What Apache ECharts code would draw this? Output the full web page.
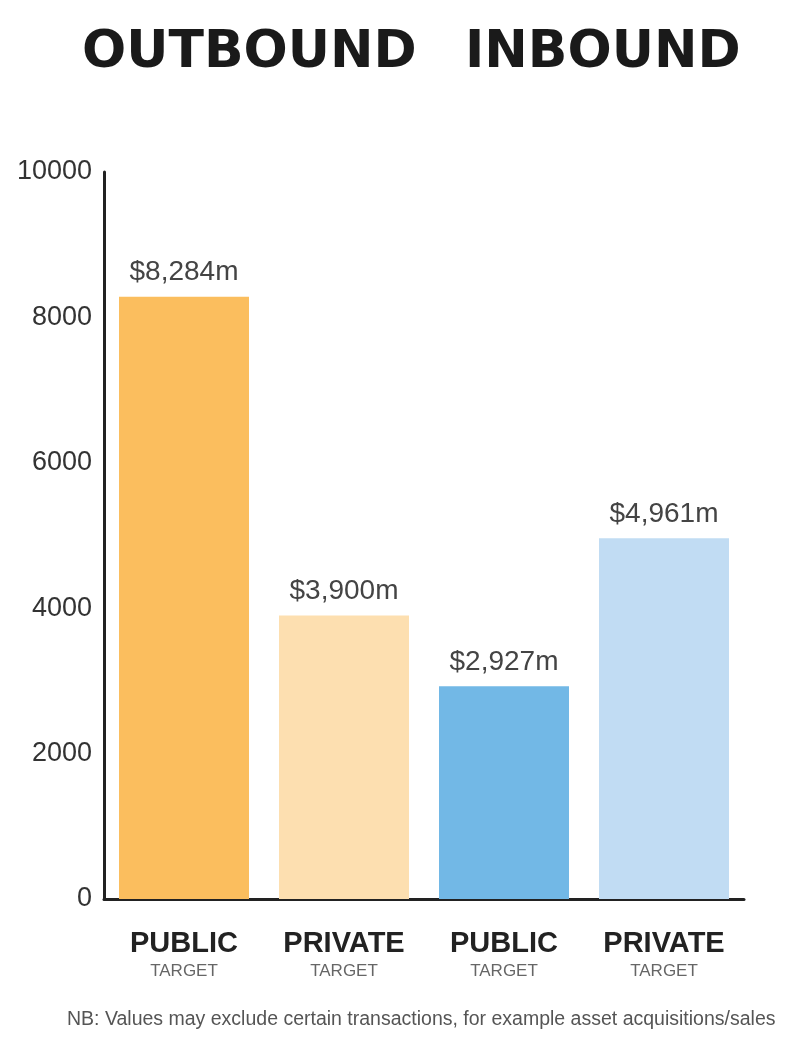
<!DOCTYPE html>
<html>
<head>
<meta charset="utf-8">
<script src="https://cdn.jsdelivr.net/npm/echarts@6/dist/echarts.min.js"></script>
<style>
html,body{margin:0;padding:0;background:#fff;}
#chart{width:800px;height:1056px;}
</style>
</head>
<body>
<div id="chart"></div>
<script>
const categories = ['PUBLIC', 'PRIVATE', 'PUBLIC', 'PRIVATE'];
const subLabels = ['TARGET', 'TARGET', 'TARGET', 'TARGET'];
const values = [8284, 3900, 2927, 4961];
const valueLabels = ['$8,284m', '$3,900m', '$2,927m', '$4,961m'];
const barColors = ['#FBBE5E', '#FDDFB0', '#72B8E6', '#C1DCF3'];
const groupTitles = ['OUTBOUND', 'INBOUND'];
const yTicks = [0, 2000, 4000, 6000, 8000, 10000];
const footnote = 'NB: Values may exclude certain transactions, for example asset acquisitions/sales';

const chart = echarts.init(document.getElementById('chart'), null, {renderer: 'canvas'});

const option = {
  animation: false,
  backgroundColor: '#ffffff',
  grid: {left: 104, right: 56, top: 172, bottom: 157, containLabel: false},
  graphic: [
    {type: 'text', left: 82, top: 27, style: {text: groupTitles[0], font: 'bold 52px "DejaVu Sans"', fill: '#1a1a1a'}},
    {type: 'text', left: 465, top: 27, style: {text: groupTitles[1], font: 'bold 52px "DejaVu Sans"', fill: '#1a1a1a'}},
    {type: 'text', left: 67, top: 1010, style: {text: footnote, font: '19.5px "Liberation Sans"', fill: '#555'}}
  ],
  xAxis: {
    type: 'category',
    data: categories.map((c, i) => c + '\n' + subLabels[i]),
    axisLine: {show: true, lineStyle: {color: '#222', width: 3}},
    axisTick: {show: false},
    axisLabel: {
      margin: 30,
      interval: 0,
      formatter: function (v) {
        const p = v.split('\n');
        return '{a|' + p[0] + '}\n{b|' + p[1] + '}';
      },
      rich: {
        a: {fontFamily: 'Liberation Sans', fontWeight: 'bold', fontSize: 29, color: '#222', lineHeight: 30},
        b: {fontFamily: 'Liberation Sans', fontSize: 17, color: '#666', lineHeight: 24}
      }
    }
  },
  yAxis: {
    type: 'value',
    min: yTicks[0],
    max: yTicks[yTicks.length - 1],
    interval: 2000,
    axisLine: {show: true, lineStyle: {color: '#222', width: 3}},
    axisTick: {show: false},
    splitLine: {show: false},
    axisLabel: {fontFamily: 'Liberation Sans', fontSize: 27, color: '#333', margin: 12,
      formatter: function (v) { return String(v); }}
  },
  series: [{
    type: 'bar',
    barWidth: 130,
    data: values.map((v, i) => ({value: v, itemStyle: {color: barColors[i]}})),
    label: {
      show: true,
      position: 'top',
      distance: 10,
      fontFamily: 'Liberation Sans',
      fontSize: 28,
      color: '#444',
      formatter: function (p) { return valueLabels[p.dataIndex]; }
    }
  }]
};
chart.setOption(option);
</script>
</body>
</html>
